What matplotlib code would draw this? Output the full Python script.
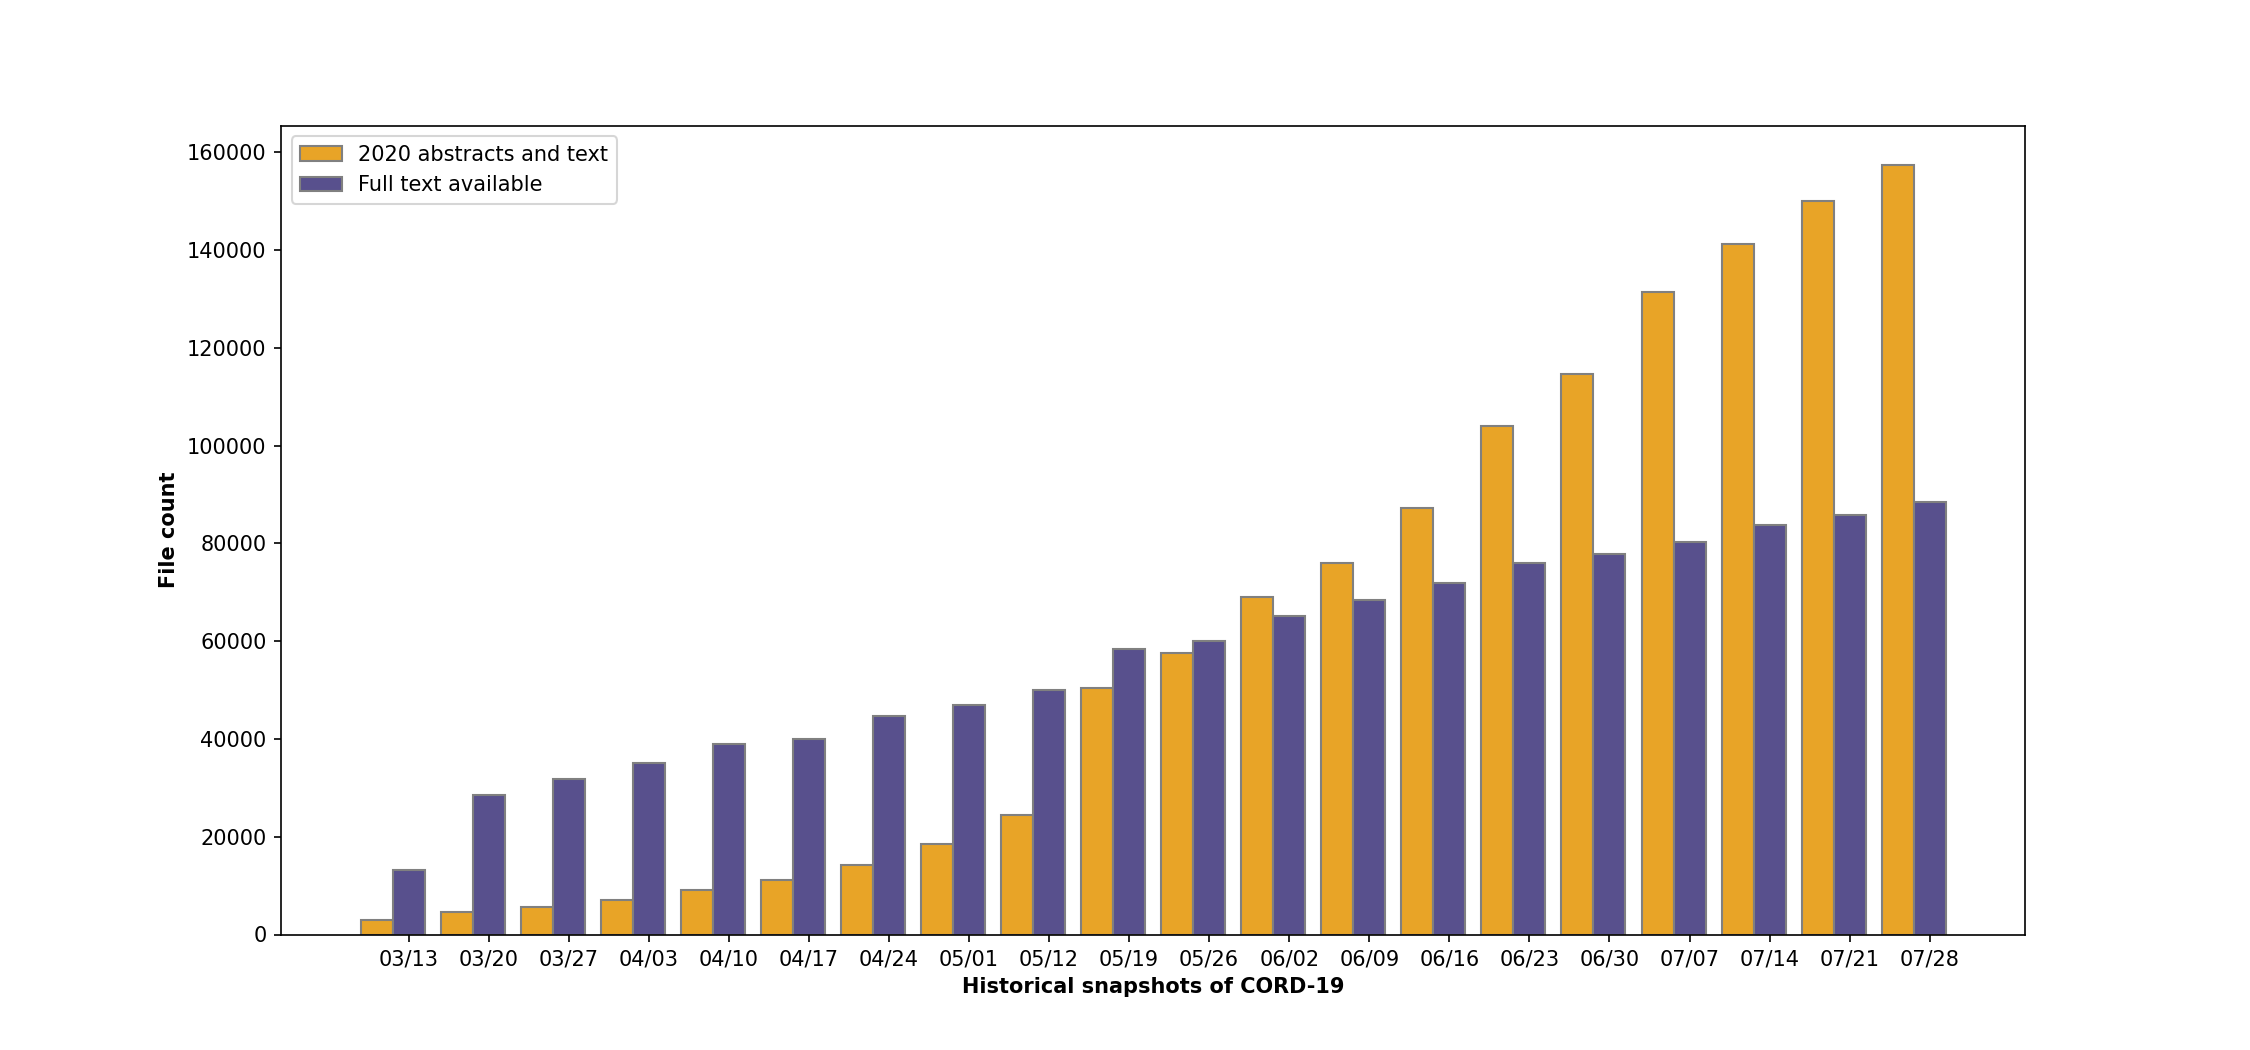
import numpy as np
import matplotlib
matplotlib.use('Agg')
import matplotlib.pyplot as plt

# Snapshot dates of CORD-19.
snapshots = ['03/13', '03/20', '03/27', '04/03', '04/10', '04/17', '04/24',
             '05/01', '05/12', '05/19', '05/26', '06/02', '06/09', '06/16',
             '06/23', '06/30', '07/07', '07/14', '07/21', '07/28']

# File counts per snapshot.
abstracts_2020 = [2900, 4700, 5600, 7000, 9100, 11200, 14200, 18500, 24400,
                  50500, 57500, 69000, 76000, 87300, 104000, 114600, 131500,
                  141300, 150000, 157500]
full_text = [13200, 28500, 31800, 35000, 38900, 40000, 44700, 47000, 50000,
             58500, 60000, 65200, 68400, 71800, 76000, 77800, 80300, 83700,
             85800, 88400]

bar_width = 0.4
r1 = np.arange(len(snapshots))
r2 = r1 + bar_width

fig = plt.figure(figsize=(15, 7), dpi=150)
plt.bar(r1, abstracts_2020, width=bar_width, color='#e8a427',
        edgecolor='grey', label='2020 abstracts and text')
plt.bar(r2, full_text, width=bar_width, color='#58508d',
        edgecolor='grey', label='Full text available')

plt.xlabel('Historical snapshots of CORD-19', fontweight='bold')
plt.ylabel('File count', fontweight='bold')
plt.xticks(r2, snapshots)
plt.legend(loc='upper left')
plt.savefig('out.png', dpi=150)
